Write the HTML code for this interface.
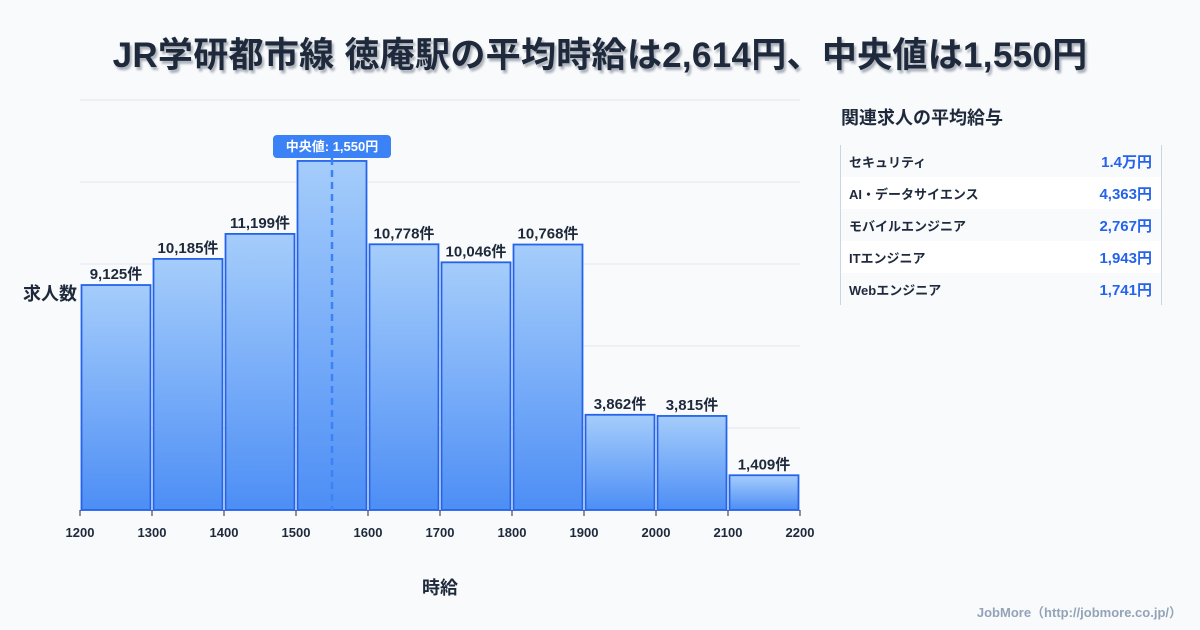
<!DOCTYPE html>
<html><head><meta charset="utf-8"><style>
body{margin:0;width:1200px;height:630px;background:#f8fafc;font-family:"Liberation Sans","Noto Sans CJK JP",sans-serif;overflow:hidden;position:relative;color:#1e293b}
.title{position:absolute;left:0;top:27px;width:1200px;text-align:center;font-size:35px;font-weight:bold;color:#1e293b;text-shadow:2px 3px 2px rgba(30,41,59,0.35);letter-spacing:0.3px}
.panel-title{position:absolute;left:841px;top:104px;font-size:18px;font-weight:bold}
.tbl{position:absolute;left:840px;top:145px;width:320px;border-left:1px solid #cbd5e1;border-right:1px solid #cbd5e1}
.row{height:32px;display:flex;justify-content:space-between;align-items:center;padding:0 9px 0 8px;font-size:13px;font-weight:bold}
.row:nth-child(even){background:#fff}
.row .v{color:#2563eb;font-size:15px}
.foot{position:absolute;right:18px;top:602px;font-size:13px;font-weight:bold;color:#94a3b8}
</style></head><body>
<div class="title">JR学研都市線 徳庵駅の平均時給は2,614円、中央値は1,550円</div>
<svg id="chart" width="830" height="630" style="position:absolute;left:0;top:0"></svg>
<div class="panel-title">関連求人の平均給与</div>
<div class="tbl">
<div class="row"><span>セキュリティ</span><span class="v">1.4万円</span></div>
<div class="row"><span>AI・データサイエンス</span><span class="v">4,363円</span></div>
<div class="row"><span>モバイルエンジニア</span><span class="v">2,767円</span></div>
<div class="row"><span>ITエンジニア</span><span class="v">1,943円</span></div>
<div class="row"><span>Webエンジニア</span><span class="v">1,741円</span></div>
</div>
<div class="foot">JobMore（http://jobmore.co.jp/）</div>
<script>
const binStarts=[1200,1300,1400,1500,1600,1700,1800,1900,2000,2100];
const counts=[9125,10185,11199,14158,10778,10046,10768,3862,3815,1409];
const showLabel=[true,true,true,false,true,true,true,true,true,true];
const xTicks=[1200,1300,1400,1500,1600,1700,1800,1900,2000,2100,2200];
const median=1550;
const yMax=16630, yGridCount=5;
const X0=80,X1=800,Y0=510,Y1=100;
const xs=v=>X0+(v-1200)/(2200-1200)*(X1-X0);
const ys=v=>Y0-v/yMax*(Y0-Y1);
const NS="http://www.w3.org/2000/svg";
const svg=document.getElementById('chart');
function mk(t,a){const e=document.createElementNS(NS,t);for(const k in a)e.setAttribute(k,a[k]);svg.appendChild(e);return e;}
const defs=mk('defs',{});
defs.innerHTML='<linearGradient id="g" x1="0" y1="0" x2="0" y2="1"><stop offset="0" stop-color="#a5cdfb"/><stop offset="1" stop-color="#4d8ef5"/></linearGradient>';
for(let i=0;i<=yGridCount;i++){const y=ys(yMax*i/yGridCount);const l=mk('line',{x1:X0,x2:X1,y1:y,y2:y,stroke:'#e2e8f0','stroke-width':1});

}
binStarts.forEach((b,i)=>{
 const x=xs(b)+1.5,w=xs(b+100)-xs(b)-3,y=ys(counts[i]);
 const r=mk('rect',{x:x,y:y,width:w,height:Y0-y,fill:'url(#g)',stroke:'#2563eb','stroke-width':1.8});
 
 
 if(showLabel[i]){const t=mk('text',{x:xs(b+50),y:y-6,'text-anchor':'middle','font-size':15,'font-weight':'bold',fill:'#1e293b'});
 t.textContent=counts[i].toLocaleString('en-US')+'件';
 
 }
});
xTicks.forEach(v=>{const x=xs(v);const l=mk('line',{x1:x,x2:x,y1:Y0,y2:Y0+6,stroke:'#1e293b','stroke-width':1});


const t=mk('text',{x:x,y:Y0+27,'text-anchor':'middle','font-size':13,'font-weight':'bold',fill:'#1e293b'});t.textContent=v;

});
const mx=xs(median);
const ml=mk('line',{x1:mx,x2:mx,y1:ys(counts[3])-3,y2:Y0,stroke:'#3b82f6','stroke-width':2.5,'stroke-dasharray':'7,5'});


const mb=mk('rect',{x:mx-59,y:135,width:118,height:23,rx:4,fill:'#3b82f6'});


const mt=mk('text',{x:mx,y:151,'text-anchor':'middle','font-size':13,'font-weight':'bold',fill:'#fff'});mt.textContent='中央値: 1,550円';


const yt=mk('text',{x:50,y:300,'text-anchor':'middle','font-size':18,'font-weight':'bold',fill:'#1e293b'});yt.textContent='求人数';


const xt=mk('text',{x:440,y:594,'text-anchor':'middle','font-size':18,'font-weight':'bold',fill:'#1e293b'});xt.textContent='時給';


</script>
</body></html>
